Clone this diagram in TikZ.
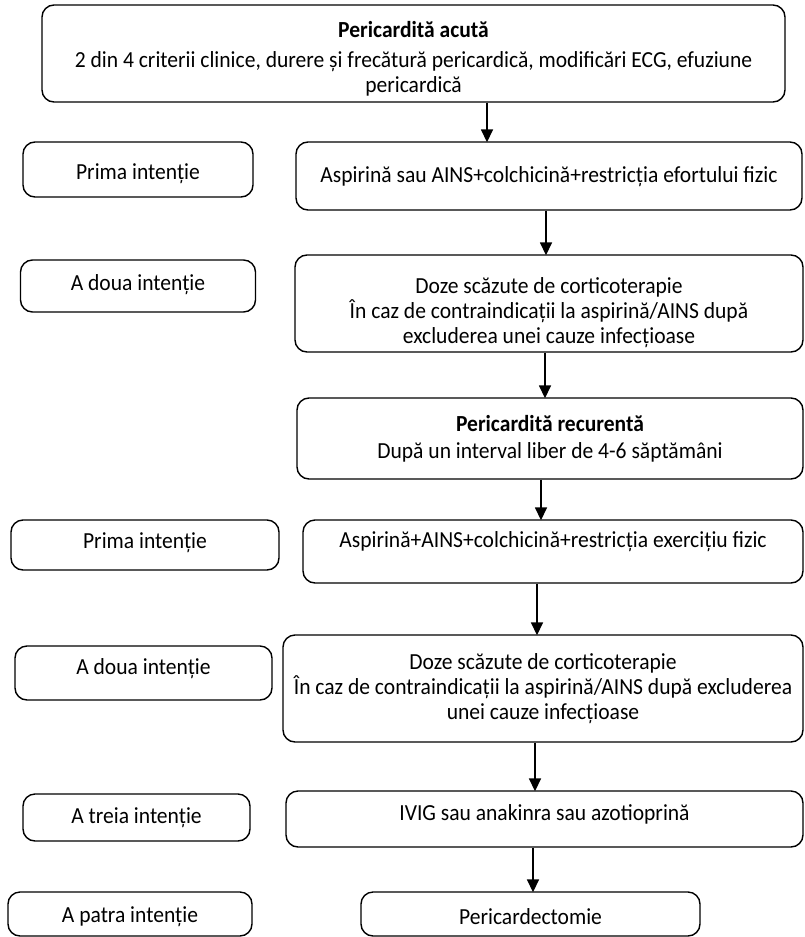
\documentclass[tikz,border=0pt]{standalone}
\usepackage{fontspec}
\setmainfont{Carlito}[FakeStretch=0.937]
\usepackage{tikz}
\usetikzlibrary{arrows.meta}

\tikzset{
  box/.style={draw, line width=1.4pt, rounded corners=12pt, align=center,
    inner sep=2pt, font=\fontsize{23}{25}\selectfont},
  txt/.style={inner sep=0pt, anchor=base, font=\fontsize{23}{25}\selectfont},
  arr/.style={line width=1.6pt, -{Triangle[length=13pt,width=12pt]}},
  up/.style={text depth=#1},
  down/.style={text height=#1}
}
% invisible strut to push a multi-line text down
\newcommand{\topgap}[1]{\rule{0pt}{#1}}

\begin{document}
\begin{tikzpicture}[x=1pt, y=-1pt]
  \useasboundingbox (0,0) rectangle (805,937);
  % acute pericarditis
  \node[box, minimum width=743pt, minimum height=97pt] (acuta) at (413.5,53.5) {};
  \node[txt, font=\fontsize{23}{25}\selectfont\bfseries] (acuta1) at (413.5,37.5) {Pericardită acută};
  \node[txt] (acuta2) at (413.5,67.5)
    {2 din 4 criterii clinice, durere și frecătură pericardică, modificări ECG, efuziune};
  \node[txt] (acuta3) at (413.5,92.5) {pericardică};
  \node[box, minimum width=230pt, minimum height=55pt, down=24pt] (l1) at (138,169.5) {Prima intenție};
  \node[box, minimum width=506pt, minimum height=68pt, up=3pt] (b1) at (549,176)
    {Aspirină sau AINS+colchicină+restricția efortului fizic};
  \node[box, minimum width=235pt, minimum height=52pt, up=6pt] (l2) at (138,286) {A doua intenție};
  \node[box, minimum width=508pt, minimum height=97pt] (b2) at (549,303.5)
    {\topgap{34pt}Doze scăzute de corticoterapie\\
     În caz de contraindicații la aspirină/AINS după\\
     excluderea unei cauze infecțioase};
  % recurrent pericarditis
  \node[box, minimum width=506pt, minimum height=81pt] (recur) at (550,438.5)
    {\textbf{Pericardită recurentă}\\[2pt]
     După un interval liber de 4-6 săptămâni};
  \node[box, minimum width=268pt, minimum height=50pt, up=9pt] (l3) at (145,545) {Prima intenție};
  \node[box, minimum width=500pt, minimum height=63pt, up=23pt] (c1) at (553,551.5)
    {Aspirină+AINS+colchicină+restricția exercițiu fizic};
  \node[box, minimum width=257pt, minimum height=54pt, up=13pt] (l4) at (143.5,673) {A doua intenție};
  \node[box, minimum width=520pt, minimum height=107pt] (c2) at (543,688.5)
    {Doze scăzute de corticoterapie\\
     În caz de contraindicații la aspirină/AINS după excluderea\\
     unei cauze infecțioase};
  \node[box, minimum width=227pt, minimum height=47pt, up=4pt] (l5) at (136.5,817.5) {A treia intenție};
  \node[box, minimum width=517pt, minimum height=56pt, up=13pt] (c3) at (544.5,819)
    {IVIG sau anakinra sau azotioprină};
  \node[box, minimum width=244pt, minimum height=44pt, down=22pt] (l6) at (130,914) {A patra intenție};
  \node[box, minimum width=339pt, minimum height=44pt, down=22pt] (c4) at (530.5,914) {Pericardectomie};

  \draw[arr] (acuta.south -| 487,0) -- ([yshift=-1pt]b1.north -| 487,0);
  \draw[arr] (b1.south -| 546,0) -- ([yshift=-1pt]b2.north -| 546,0);
  \draw[arr] (b2.south -| 545,0) -- ([yshift=-1pt]recur.north -| 545,0);
  \draw[arr] (recur.south -| 541,0) -- ([yshift=-1pt]c1.north -| 541,0);
  \draw[arr] (c1.south -| 537,0) -- ([yshift=-1pt]c2.north -| 537,0);
  \draw[arr] (c2.south -| 535,0) -- ([yshift=-1pt]c3.north -| 535,0);
  \draw[arr] (c3.south -| 533,0) -- ([yshift=-1pt]c4.north -| 533,0);
\end{tikzpicture}
\end{document}
